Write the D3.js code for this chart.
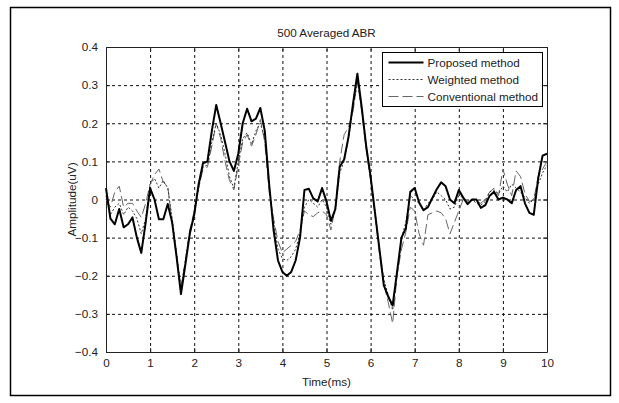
<!DOCTYPE html>
<html>
<head>
  <meta charset="utf-8">
  <title>500 Averaged ABR</title>
  <script src="https://d3js.org/d3.v7.min.js"></script>
  <style>
    body { margin: 0; background: #fff; font-family: 'Liberation Sans', Arial, sans-serif; }
    .axis text { font-family: 'Liberation Sans', Arial, sans-serif; font-size: 11.7px; fill: #222; }
    .axis path, .axis line { stroke: #222; }
    .grid line { stroke: #111; stroke-dasharray: 3,3; }
    .grid path { display: none; }
  </style>
</head>
<body>
  <div id="chart"></div>
  <script>
    // sample times (ms)
    var time = [0,0.1,0.2,0.3,0.4,0.5,0.6,0.7,0.8,0.9,
      1,1.1,1.2,1.3,1.4,1.5,1.6,1.7,1.8,1.9,
      2,2.1,2.2,2.3,2.4,2.5,2.6,2.7,2.8,2.9,
      3,3.1,3.2,3.3,3.4,3.5,3.6,3.7,3.8,3.9,
      4,4.1,4.2,4.3,4.4,4.5,4.6,4.7,4.8,4.9,
      5,5.1,5.2,5.3,5.4,5.5,5.6,5.7,5.8,5.9,
      6,6.1,6.2,6.3,6.4,6.5,6.6,6.7,6.8,6.9,
      7,7.1,7.2,7.3,7.4,7.5,7.6,7.7,7.8,7.9,
      8,8.1,8.2,8.3,8.4,8.5,8.6,8.7,8.8,8.9,
      9,9.1,9.2,9.3,9.4,9.5,9.6,9.7,9.8,9.9,10];

    var proposed = [0.03,-0.05,-0.065,-0.025,-0.073,-0.065,-0.047,-0.1,-0.14,-0.06,
      0.03,0.0,-0.052,-0.052,-0.012,-0.06,-0.15,-0.248,-0.17,-0.09,
      -0.04,0.04,0.095,0.1,0.18,0.248,0.2,0.15,0.1,0.075,
      0.12,0.2,0.238,0.205,0.212,0.24,0.18,0.04,-0.08,-0.16,
      -0.19,-0.2,-0.19,-0.16,-0.1,0.025,0.028,0.003,-0.005,0.03,
      -0.005,-0.056,-0.025,0.086,0.105,0.165,0.25,0.33,0.24,0.14,
      0.06,-0.035,-0.13,-0.225,-0.255,-0.278,-0.19,-0.1,-0.075,0.02,
      0.03,-0.008,-0.028,-0.02,0.004,0.027,0.045,0.035,0.0,-0.01,
      0.025,0.005,-0.012,0.0,0.0,-0.022,-0.015,0.01,0.02,0.0,
      0.005,0.0,-0.01,0.025,0.035,-0.01,-0.035,-0.04,0.055,0.115,0.12];

    var weighted = [0.01,-0.04,-0.02,-0.01,-0.04,-0.02,-0.03,-0.05,-0.09,-0.05,
      0.04,0.055,0.03,0.05,0.03,-0.05,-0.14,-0.235,-0.16,-0.085,
      -0.04,0.03,0.085,0.09,0.15,0.2,0.17,0.12,0.06,0.03,
      0.1,0.16,0.175,0.145,0.18,0.2,0.16,0.03,-0.06,-0.13,
      -0.155,-0.16,-0.15,-0.13,-0.09,-0.02,0.0,-0.01,-0.02,0.0,
      -0.02,-0.065,-0.03,0.07,0.1,0.16,0.24,0.31,0.24,0.14,
      0.06,-0.03,-0.13,-0.21,-0.25,-0.29,-0.2,-0.1,-0.06,0.01,
      0.0,-0.01,-0.03,-0.01,0.0,0.02,0.01,0.0,-0.025,-0.02,
      0.01,0.005,-0.005,0.0,-0.01,-0.015,-0.005,0.02,0.025,0.015,
      0.035,0.02,0.04,0.03,0.02,0.005,-0.01,0.0,0.04,0.07,0.09];

    var conventional = [0.0,-0.02,0.02,0.035,-0.02,-0.01,-0.01,-0.03,-0.047,-0.01,
      0.04,0.065,0.08,0.045,0.035,-0.06,-0.15,-0.23,-0.16,-0.08,
      -0.03,0.03,0.08,0.085,0.14,0.2,0.16,0.1,0.05,0.025,
      0.09,0.15,0.17,0.14,0.17,0.21,0.15,0.02,-0.05,-0.11,
      -0.14,-0.13,-0.12,-0.11,-0.08,-0.03,-0.04,-0.045,-0.035,-0.03,
      -0.04,-0.08,-0.02,0.1,0.17,0.19,0.23,0.31,0.23,0.13,
      0.05,-0.04,-0.14,-0.22,-0.27,-0.325,-0.2,-0.13,-0.085,-0.02,
      -0.03,-0.09,-0.12,-0.04,-0.035,-0.03,-0.035,-0.05,-0.09,-0.06,
      -0.03,0.0,-0.01,0.0,-0.005,-0.01,0.0,0.02,0.03,0.01,
      0.08,0.04,0.01,0.075,0.06,0.015,-0.005,0.0,0.06,0.08,0.1];

    var xTicks = [0,1,2,3,4,5,6,7,8,9,10];
    var yTicks = [-0.4,-0.3,-0.2,-0.1,0,0.1,0.2,0.3,0.4];

    var series = [
      {name: "Proposed method", values: proposed, color: "#000", width: 2, dash: null},
      {name: "Weighted method", values: weighted, color: "#333", width: 1, dash: "2,2"},
      {name: "Conventional method", values: conventional, color: "#666", width: 1, dash: "10,4"}
    ];

    var W = 619, H = 403;
    var margin = {top: 47, right: 72, bottom: 51, left: 106},
        width = W - margin.left - margin.right,
        height = H - margin.top - margin.bottom;

    var root = d3.select("#chart").append("svg")
      .attr("width", W)
      .attr("height", H);

    // outer frame
    root.append("rect")
      .attr("x", 10.5).attr("y", 7.5)
      .attr("width", 600).attr("height", 388)
      .attr("fill", "none").attr("stroke", "#000").attr("stroke-width", 1.5);

    var svg = root.append("g")
      .attr("transform", "translate(" + margin.left + "," + margin.top + ")");

    var x = d3.scaleLinear().domain([0, 10]).range([0, width]);
    var y = d3.scaleLinear().domain([-0.4, 0.4]).range([height, 0]);

    // grid
    svg.append("g").attr("class", "grid")
      .attr("transform", "translate(0," + height + ")")
      .call(d3.axisBottom(x).tickValues(xTicks.slice(1, -1)).tickSize(-height).tickFormat(""));
    svg.append("g").attr("class", "grid")
      .call(d3.axisLeft(y).tickValues(yTicks.slice(1, -1)).tickSize(-width).tickFormat(""));

    // axes with inward ticks
    svg.append("g").attr("class", "axis")
      .attr("transform", "translate(0," + height + ")")
      .call(d3.axisBottom(x).tickValues(xTicks).tickSizeInner(-4).tickSizeOuter(0).tickPadding(9))
      .call(g => g.selectAll("text").attr("dy", "0.55em"));
    svg.append("g").attr("class", "axis")
      .call(d3.axisLeft(y).tickValues(yTicks).tickSizeInner(-4).tickSizeOuter(0).tickPadding(8)
        .tickFormat(d => d3.format("")(+d.toFixed(1))));
    svg.append("g").attr("class", "axis")
      .call(d3.axisTop(x).tickValues(xTicks).tickSizeInner(-4).tickSizeOuter(0).tickFormat(""));
    svg.append("g").attr("class", "axis")
      .attr("transform", "translate(" + width + ",0)")
      .call(d3.axisRight(y).tickValues(yTicks).tickSizeInner(-4).tickSizeOuter(0).tickFormat(""));

    // lines
    var line = d3.line()
      .x((d, i) => x(time[i]))
      .y(d => y(d));

    series.slice().reverse().forEach(s => {
      svg.append("path")
        .datum(s.values)
        .attr("fill", "none")
        .attr("stroke", s.color)
        .attr("stroke-width", s.width)
        .attr("stroke-linejoin", "round")
        .attr("stroke-dasharray", s.dash)
        .attr("d", line);
    });

    // titles
    svg.append("text")
      .attr("x", width / 2).attr("y", -10)
      .attr("text-anchor", "middle")
      .style("font-size", "11.7px").style("fill", "#222")
      .text("500 Averaged ABR");

    svg.append("text")
      .attr("x", width / 2).attr("y", height + 34)
      .attr("text-anchor", "middle")
      .style("font-size", "11.7px").style("fill", "#222")
      .text("Time(ms)");

    svg.append("text")
      .attr("transform", "rotate(-90)")
      .attr("x", -height / 2).attr("y", -30)
      .attr("text-anchor", "middle")
      .style("font-size", "11.7px").style("fill", "#222")
      .text("Amplitude(uV)");

    // legend
    var lg = root.append("g").attr("transform", "translate(382.5,52.5)");
    lg.append("rect")
      .attr("width", 160).attr("height", 54)
      .attr("fill", "#fff").attr("stroke", "#000").attr("stroke-width", 1);
    series.forEach((s, i) => {
      var yy = 10 + i * 17;
      lg.append("line")
        .attr("x1", 6).attr("x2", 41).attr("y1", yy).attr("y2", yy)
        .attr("stroke", s.color).attr("stroke-width", s.width)
        .attr("stroke-dasharray", s.dash);
      lg.append("text")
        .attr("x", 45).attr("y", yy).attr("dy", "0.35em")
        .style("font-size", "11.7px").style("fill", "#222")
        .text(s.name);
    });
  </script>
</body>
</html>
